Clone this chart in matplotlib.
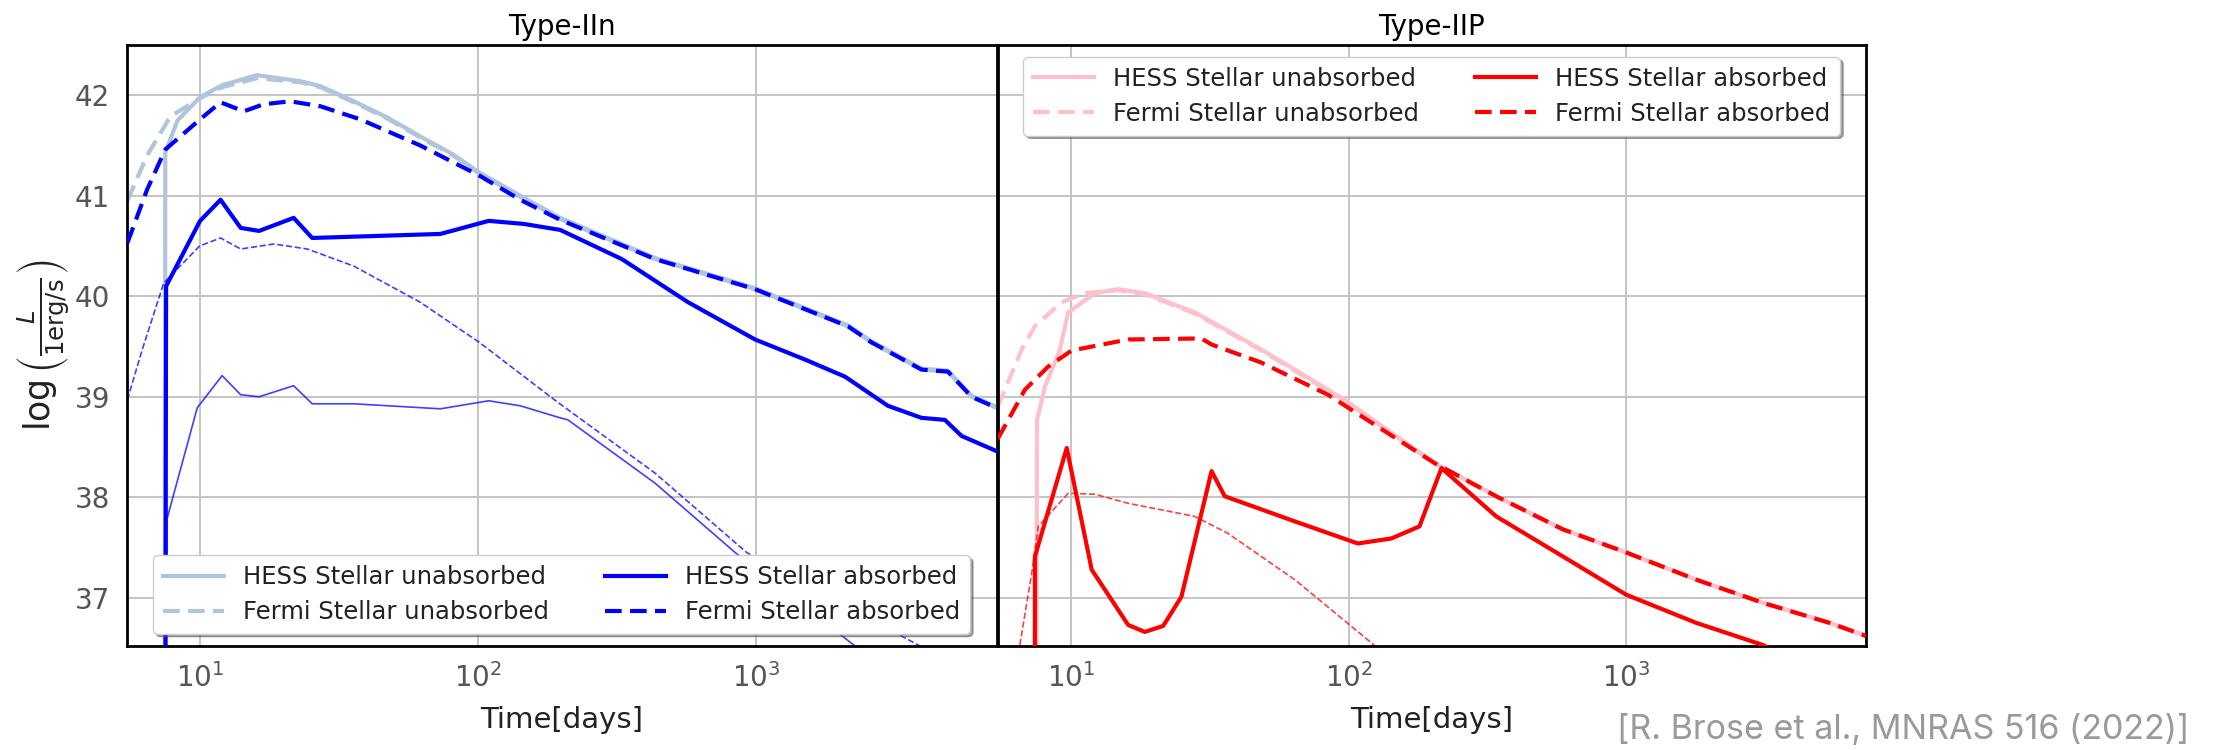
import matplotlib
matplotlib.use("Agg")
import matplotlib.pyplot as plt
import numpy as np

# Type-IIn (left panel), time in days, log10 luminosity
iin_hess_unabs_t = [7.45, 7.5, 8.3, 10, 12, 16, 22.9, 27.1, 35.7, 47, 61.9, 81.3, 101, 141.6, 197, 432, 988, 2134, 2594, 3919, 4874, 5929, 7280]
iin_hess_unabs_L = [30.0, 41.43, 41.75, 41.98, 42.1, 42.2, 42.14, 42.09, 41.94, 41.78, 41.59, 41.41, 41.23, 41.0, 40.78, 40.38, 40.08, 39.71, 39.55, 39.28, 39.26, 39.01, 38.90]

iin_fermi_unabs_t = [5.48, 6.45, 7.83, 10, 12, 16, 22.9, 27.1, 35.7, 47, 61.9, 81.3, 101, 141.6, 197, 432, 988, 2134, 2594, 3919, 4874, 5929, 7280]
iin_fermi_unabs_L = [40.95, 41.40, 41.79, 41.97, 42.08, 42.17, 42.13, 42.08, 41.93, 41.77, 41.58, 41.40, 41.22, 40.99, 40.77, 40.37, 40.07, 39.70, 39.54, 39.27, 39.25, 39.00, 38.89]

iin_hess_abs_t = [7.45, 7.55, 10, 11.85, 14, 16.3, 21.7, 25.3, 73.1, 109, 145.5, 197, 328, 568, 988, 1494, 2080, 2967, 3919, 4753, 5459, 7280]
iin_hess_abs_L = [30.0, 40.10, 40.75, 40.96, 40.68, 40.65, 40.78, 40.58, 40.62, 40.75, 40.72, 40.66, 40.37, 39.94, 39.57, 39.37, 39.20, 38.91, 38.79, 38.77, 38.61, 38.46]

iin_fermi_abs_t = [5.48, 6.45, 7.5, 10, 11.85, 14.36, 16.9, 21.1, 27.1, 37.7, 61.9, 101, 141.6, 197, 432, 988, 2134, 2594, 3919, 4874, 5929, 7280]
iin_fermi_abs_L = [40.53, 41.06, 41.46, 41.76, 41.93, 41.84, 41.91, 41.94, 41.89, 41.76, 41.50, 41.20, 40.96, 40.76, 40.37, 40.07, 39.70, 39.54, 39.27, 39.25, 39.00, 38.89]

iin_thin_solid_t = [7.45, 7.6, 9.77, 12.0, 14, 16.3, 21.7, 25.3, 35.7, 73.1, 109, 141.6, 197, 210, 432, 838, 2260, 3000]
iin_thin_solid_L = [30.0, 37.78, 38.89, 39.21, 39.02, 39.00, 39.11, 38.93, 38.93, 38.88, 38.96, 38.91, 38.79, 38.77, 38.14, 37.45, 36.52, 36.25]

iin_thin_dash_t = [5.48, 6.2, 7.4, 9.96, 11.85, 14, 18.4, 24.3, 35.7, 61.9, 101, 192, 432, 922, 3811, 5000]
iin_thin_dash_L = [38.97, 39.47, 40.13, 40.50, 40.58, 40.47, 40.52, 40.47, 40.30, 39.94, 39.54, 38.95, 38.24, 37.45, 36.53, 36.35]

# Type-IIP (right panel)
iip_hess_unabs_t = [7.45, 7.55, 8.06, 9.13, 9.78, 12.2, 14.8, 18.5, 27.9, 48.5, 96.8, 204, 340, 592, 1000, 1787, 3104, 5395, 7300]
iip_hess_unabs_L = [30.0, 38.77, 39.10, 39.47, 39.84, 40.03, 40.07, 40.03, 39.84, 39.47, 38.97, 38.34, 38.01, 37.68, 37.45, 37.18, 36.95, 36.75, 36.62]

iip_fermi_unabs_t = [5.45, 6.65, 7.41, 9.26, 11.2, 14.8, 18.5, 27.9, 48.5, 96.8, 204, 340, 592, 1000, 1787, 3104, 5395, 7300]
iip_fermi_unabs_L = [38.90, 39.47, 39.70, 39.94, 40.03, 40.06, 40.02, 39.83, 39.46, 38.96, 38.34, 38.01, 37.68, 37.45, 37.18, 36.95, 36.75, 36.62]

iip_hess_abs_t = [7.4, 7.42, 9.66, 11.88, 16.07, 18.45, 21.5, 25.0, 32.1, 35.8, 64.0, 108, 142.6, 180, 216, 340, 592, 1000, 1787, 3104, 5395]
iip_hess_abs_L = [30.0, 37.41, 38.49, 37.28, 36.73, 36.66, 36.72, 37.01, 38.26, 38.01, 37.76, 37.54, 37.59, 37.71, 38.29, 37.81, 37.41, 37.03, 36.75, 36.53, 36.2]

iip_fermi_abs_t = [5.45, 6.83, 8.28, 10.06, 16.07, 29.5, 32.1, 48.5, 84.3, 204, 340, 592, 1000, 1787, 3104, 5395, 7300]
iip_fermi_abs_L = [38.58, 39.07, 39.30, 39.46, 39.57, 39.58, 39.52, 39.34, 39.02, 38.34, 38.01, 37.68, 37.45, 37.18, 36.95, 36.75, 36.62]

iip_thin_dash_t = [6.55, 7.23, 7.63, 9.78, 12.2, 16.07, 27.9, 36.8, 64.0, 121, 150]
iip_thin_dash_L = [36.53, 37.25, 37.71, 38.04, 38.03, 37.94, 37.81, 37.64, 37.18, 36.55, 36.3]

legend_labels = ["HESS Stellar unabsorbed", "Fermi Stellar unabsorbed",
                 "HESS Stellar absorbed", "Fermi Stellar absorbed"]

W, H = 2219, 750
fig = plt.figure(figsize=(W / 100, H / 100), dpi=100)
ax1 = fig.add_axes([126.7 / W, 1 - 646 / H, 870 / W, 601 / H])
ax2 = fig.add_axes([997.7 / W, 1 - 646 / H, 868.3 / W, 601 / H], sharey=ax1)

dash = (0, (4, 2))


def panel(ax, light, dark, hu, fu, ha, fa, thin, title, loc):
    l1, = ax.plot(hu[0], hu[1], color=light, lw=3, zorder=2)
    l2, = ax.plot(fu[0], fu[1], color=light, lw=3, ls=dash, zorder=2)
    l3, = ax.plot(ha[0], ha[1], color=dark, lw=3, zorder=3)
    l4, = ax.plot(fa[0], fa[1], color=dark, lw=3, ls=dash, zorder=3)
    for tt, ll, st in thin:
        ax.plot(tt, ll, color=dark, lw=1.2, ls=st, alpha=0.75, zorder=2)
    ax.set_xscale("log")
    ax.set_xlim(5.45, 7300)
    ax.set_ylim(36.52, 42.5)
    ax.grid(True, color="#c4c4c4", lw=1.4)
    ax.set_axisbelow(True)
    ax.tick_params(length=0, labelsize=20, labelcolor="#555555", pad=12)
    ax.minorticks_off()
    for s in ax.spines.values():
        s.set_color("black")
        s.set_linewidth(2)
    ax.set_title(title, fontsize=20, pad=7)
    ax.set_xlabel("Time[days]", fontsize=21, color="#222222", labelpad=10)
    leg = ax.legend([l1, l2, l3, l4], legend_labels, loc=loc, ncol=2, fontsize=17.5,
                    shadow=True, framealpha=1, facecolor="white", handlelength=2.5,
                    handletextpad=0.8, columnspacing=2.3, borderpad=0.4, labelspacing=0.45)
    leg.get_frame().set_edgecolor("#cccccc")
    for t in leg.get_texts():
        t.set_color("#222222")


panel(ax1, "lightsteelblue", "blue",
      (iin_hess_unabs_t, iin_hess_unabs_L), (iin_fermi_unabs_t, iin_fermi_unabs_L),
      (iin_hess_abs_t, iin_hess_abs_L), (iin_fermi_abs_t, iin_fermi_abs_L),
      [(iin_thin_solid_t, iin_thin_solid_L, "-"), (iin_thin_dash_t, iin_thin_dash_L, "--")],
      "Type-IIn", "lower center")
panel(ax2, "pink", "red",
      (iip_hess_unabs_t, iip_hess_unabs_L), (iip_fermi_unabs_t, iip_fermi_unabs_L),
      (iip_hess_abs_t, iip_hess_abs_L), (iip_fermi_abs_t, iip_fermi_abs_L),
      [(iip_thin_dash_t, iip_thin_dash_L, "--")],
      "Type-IIP", "upper center")

ax1.set_yticks([37, 38, 39, 40, 41, 42])
ax1.set_ylabel(r"$\log\left(\frac{L}{1\mathrm{erg/s}}\right)$", fontsize=25, color="#222222", labelpad=2)
plt.setp(ax2.get_yticklabels(), visible=False)

fig.text(2189 / W, 1 - 730 / H, "[R. Brose et al., MNRAS 516 (2022)]", ha="right", va="center",
         fontsize=24.5, color="#9a9a9a", family="Inter")

fig.savefig("out.png", dpi=100)
